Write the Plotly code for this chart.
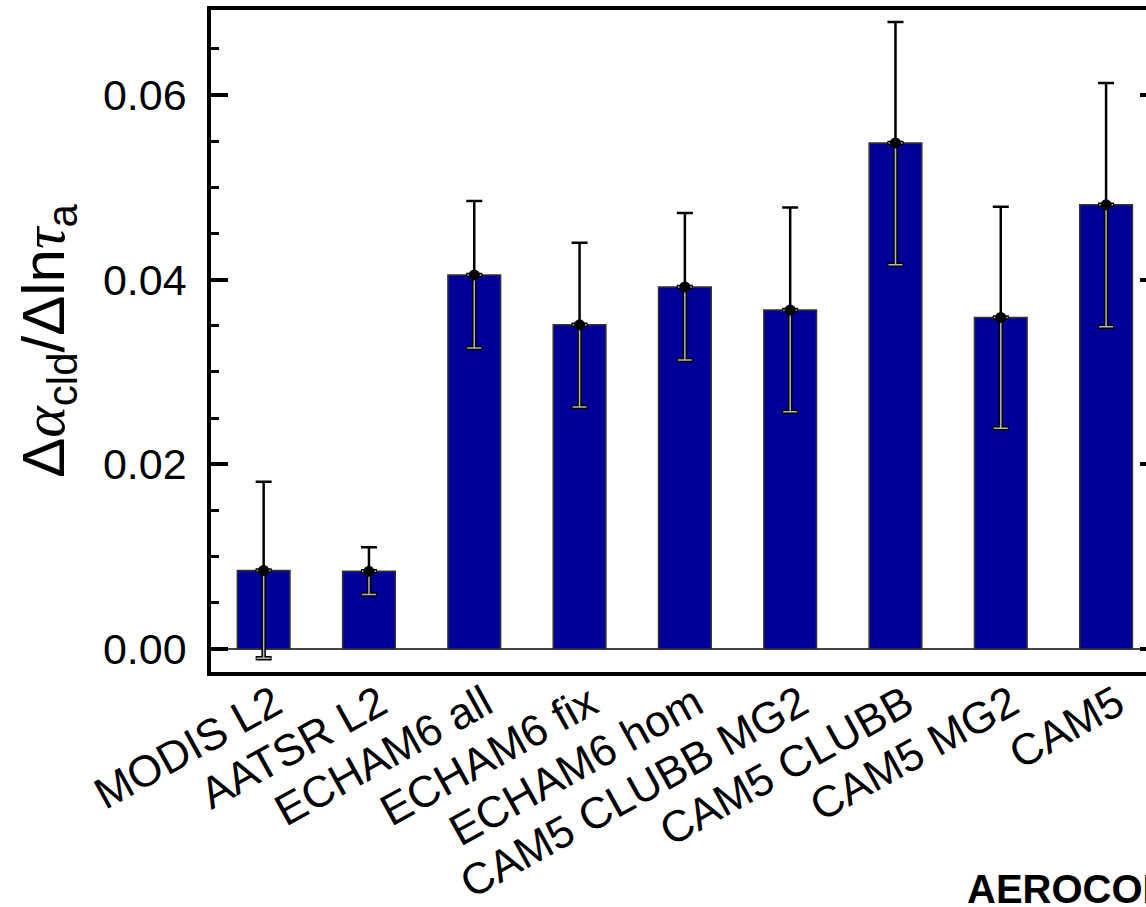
import plotly.graph_objects as go

categories = ["MODIS L2", "AATSR L2", "ECHAM6 all", "ECHAM6 fix", "ECHAM6 hom",
              "CAM5 CLUBB MG2", "CAM5 CLUBB", "CAM5 MG2", "CAM5"]
values = [0.0085, 0.0084, 0.0405, 0.0351, 0.0392, 0.0367, 0.0548, 0.0359, 0.0481]
upper = [0.0181, 0.0110, 0.0485, 0.0440, 0.0472, 0.0478, 0.0679, 0.0479, 0.0613]
lower = [-0.0010, 0.0059, 0.0326, 0.0262, 0.0313, 0.0257, 0.0416, 0.0239, 0.0349]
y_ticks = [0.00, 0.02, 0.04, 0.06]
y_tick_labels = ["0.00", "0.02", "0.04", "0.06"]

x = list(range(len(categories)))
err_up = [u - v for u, v in zip(upper, values)]
err_dn = [v - l for v, l in zip(values, lower)]
zeros = [0] * len(values)
label_shift = 0.1
tickpos = [i + label_shift for i in x]

FONT = "Liberation Sans, Arial, Helvetica, sans-serif"

fig = go.Figure()
fig.add_trace(go.Bar(x=x, y=values, width=0.5,
                     marker=dict(color="#000099", line=dict(color="#333333", width=1.5)),
                     showlegend=False))
# upper error bars (black)
fig.add_trace(go.Scatter(x=x, y=values, mode="markers",
                         marker=dict(size=1, color="rgba(0,0,0,0)"),
                         error_y=dict(type="data", symmetric=False, array=err_up, arrayminus=zeros,
                                      color="black", thickness=2.5, width=8),
                         showlegend=False))
# lower error bars: black outline + grey core
fig.add_trace(go.Scatter(x=x, y=values, mode="markers",
                         marker=dict(size=1, color="rgba(0,0,0,0)"),
                         error_y=dict(type="data", symmetric=False, array=zeros, arrayminus=err_dn,
                                      color="black", thickness=4.5, width=8),
                         showlegend=False))
fig.add_trace(go.Scatter(x=x, y=values, mode="markers",
                         marker=dict(size=1, color="rgba(0,0,0,0)"),
                         error_y=dict(type="data", symmetric=False, array=zeros, arrayminus=err_dn,
                                      color="#b4b4b4", thickness=1.5, width=7),
                         showlegend=False))
# central dots
fig.add_trace(go.Scatter(x=x, y=values, mode="markers",
                         marker=dict(size=11, color="black"), showlegend=False))

fig.update_layout(
    width=1146, height=907,
    margin=dict(l=211, r=0, t=10, b=235, autoexpand=False),
    paper_bgcolor="white", plot_bgcolor="white",
    font=dict(family=FONT, size=43, color="black"),
    xaxis=dict(range=[-0.5, 8.379], showgrid=False, zeroline=False, automargin=False,
               showline=True, linecolor="black", linewidth=3.5, mirror=True,
               ticks="", tickmode="array", tickvals=tickpos, ticktext=categories,
               tickangle=-29, tickfont=dict(size=44), ticklabeloverflow="allow",
               ticklabelstandoff=-15),
    yaxis=dict(range=[-0.0025, 0.0692], showgrid=False, automargin=False,
               zeroline=True, zerolinecolor="#444444", zerolinewidth=1.5,
               showline=True, linecolor="black", linewidth=3.5, mirror=False,
               ticks="inside", ticklen=17, tickwidth=3.5, tickcolor="black",
               tickmode="array", tickvals=y_ticks, ticktext=y_tick_labels,
               ticklabelstandoff=12, tickfont=dict(size=43),
               minor=dict(ticks="inside", ticklen=8, tickwidth=3, tickcolor="black",
                          dtick=0.005, tick0=0, showgrid=False),
               title=dict(text="Δ<i><span style='font-family:Liberation Serif'>α</span></i><sub>cld</sub>/Δln<i><span style='font-family:Liberation Serif'>τ</span></i><sub>a</sub>",
                          font=dict(size=60), standoff=20)),
    yaxis2=dict(range=[-0.0025, 0.0692], overlaying="y", side="right", showgrid=False,
                automargin=False,
                zeroline=False, showline=False, ticks="inside", ticklen=6, tickwidth=3.5,
                tickcolor="black", tickmode="array", tickvals=y_ticks, showticklabels=False),
    bargap=0.5,
)
fig.add_trace(go.Scatter(x=[x[0]], y=[values[0]], yaxis="y2", mode="markers",
                         marker=dict(size=1, color="rgba(0,0,0,0)"), showlegend=False,
                         hoverinfo="skip"))
fig.add_annotation(text="<b>AEROCOM</b>", xref="paper", yref="paper",
                   x=(965 - 211) / 935, y=-0.292, xanchor="left", yanchor="top",
                   showarrow=False, font=dict(size=40, family=FONT, color="black"))

fig.write_html("out.html")
